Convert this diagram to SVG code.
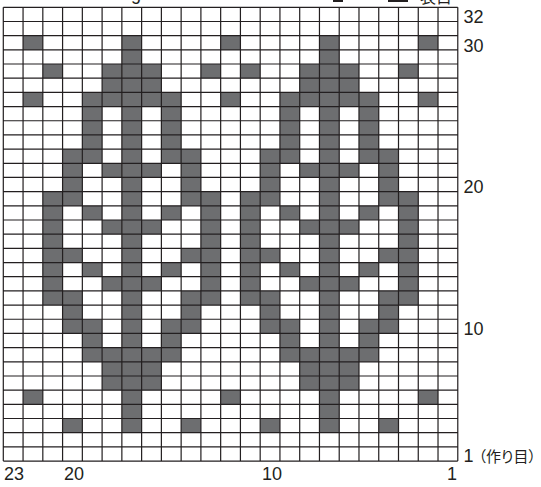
<svg xmlns="http://www.w3.org/2000/svg" xmlns:xlink="http://www.w3.org/1999/xlink" width="541" height="487" viewBox="0 0 541 487">
<defs>
<style>
.k{fill:#6d6e70}
.g{fill:none;stroke:#231f20;stroke-width:1.2}
.t{font-family:"Liberation Sans","Noto Sans CJK JP",sans-serif;font-size:18px;fill:#231f20}
.j{font-family:"Noto Sans CJK JP","Liberation Sans",sans-serif;fill:#231f20}
.p{font-family:"Noto Sans CJK JP",sans-serif;font-feature-settings:"palt";font-size:15px}
</style>
<g id="motif">
<rect class="k" x="121.86" y="35.66" width="19.76" height="397.04"/>
<rect class="k" x="102.1" y="64.02" width="59.28" height="42.54"/>
<rect class="k" x="82.34" y="92.38" width="19.76" height="70.9"/>
<rect class="k" x="161.38" y="92.38" width="19.76" height="70.9"/>
<rect class="k" x="62.58" y="149.1" width="19.76" height="56.72"/>
<rect class="k" x="181.14" y="149.1" width="19.76" height="56.72"/>
<rect class="k" x="102.1" y="163.28" width="59.28" height="14.18"/>
<rect class="k" x="42.82" y="191.64" width="19.76" height="113.44"/>
<rect class="k" x="200.9" y="191.64" width="19.76" height="113.44"/>
<rect class="k" x="82.34" y="205.82" width="19.76" height="14.18"/>
<rect class="k" x="161.38" y="205.82" width="19.76" height="14.18"/>
<rect class="k" x="102.1" y="220" width="59.28" height="14.18"/>
<rect class="k" x="62.58" y="248.36" width="19.76" height="14.18"/>
<rect class="k" x="181.14" y="248.36" width="19.76" height="14.18"/>
<rect class="k" x="82.34" y="262.54" width="19.76" height="14.18"/>
<rect class="k" x="161.38" y="262.54" width="19.76" height="14.18"/>
<rect class="k" x="102.1" y="276.72" width="59.28" height="14.18"/>
<rect class="k" x="62.58" y="290.9" width="19.76" height="42.54"/>
<rect class="k" x="181.14" y="290.9" width="19.76" height="42.54"/>
<rect class="k" x="82.34" y="319.26" width="19.76" height="42.54"/>
<rect class="k" x="161.38" y="319.26" width="19.76" height="42.54"/>
<rect class="k" x="102.1" y="347.62" width="59.28" height="42.54"/>
</g>
</defs>
<rect x="0" y="0" width="541" height="487" fill="#ffffff"/>
<g id="legend">
<text class="t" x="131" y="-0.5" font-size="17">g</text>
<rect x="333" y="-10" width="10" height="12" fill="#231f20"/>
<rect x="388" y="-10" width="20" height="12" fill="#231f20"/>
<text class="j" x="420" y="2.5" font-size="16">表目</text>
</g>
<g id="chart">
<use xlink:href="#motif" href="#motif"/>
<use xlink:href="#motif" href="#motif" x="197.6"/>
<g id="dots">
<rect class="k" x="23.06" y="35.66" width="19.76" height="14.18"/>
<rect class="k" x="220.66" y="35.66" width="19.76" height="14.18"/>
<rect class="k" x="418.26" y="35.66" width="19.76" height="14.18"/>
<rect class="k" x="42.82" y="64.02" width="19.76" height="14.18"/>
<rect class="k" x="200.9" y="64.02" width="19.76" height="14.18"/>
<rect class="k" x="240.42" y="64.02" width="19.76" height="14.18"/>
<rect class="k" x="398.5" y="64.02" width="19.76" height="14.18"/>
<rect class="k" x="23.06" y="92.38" width="19.76" height="14.18"/>
<rect class="k" x="220.66" y="92.38" width="19.76" height="14.18"/>
<rect class="k" x="418.26" y="92.38" width="19.76" height="14.18"/>
<rect class="k" x="23.06" y="390.16" width="19.76" height="14.18"/>
<rect class="k" x="220.66" y="390.16" width="19.76" height="14.18"/>
<rect class="k" x="418.26" y="390.16" width="19.76" height="14.18"/>
<rect class="k" x="62.58" y="418.52" width="19.76" height="14.18"/>
<rect class="k" x="181.14" y="418.52" width="19.76" height="14.18"/>
<rect class="k" x="260.18" y="418.52" width="19.76" height="14.18"/>
<rect class="k" x="378.74" y="418.52" width="19.76" height="14.18"/>
</g>
<path class="g" d="M3.3 7.3V461.06M23.06 7.3V461.06M42.82 7.3V461.06M62.58 7.3V461.06M82.34 7.3V461.06M102.1 7.3V461.06M121.86 7.3V461.06M141.62 7.3V461.06M161.38 7.3V461.06M181.14 7.3V461.06M200.9 7.3V461.06M220.66 7.3V461.06M240.42 7.3V461.06M260.18 7.3V461.06M279.94 7.3V461.06M299.7 7.3V461.06M319.46 7.3V461.06M339.22 7.3V461.06M358.98 7.3V461.06M378.74 7.3V461.06M398.5 7.3V461.06M418.26 7.3V461.06M438.02 7.3V461.06M457.78 7.3V461.06
M3.3 7.3H457.78M3.3 21.48H457.78M3.3 35.66H457.78M3.3 49.84H457.78M3.3 64.02H457.78M3.3 78.2H457.78M3.3 92.38H457.78M3.3 106.56H457.78M3.3 120.74H457.78M3.3 134.92H457.78M3.3 149.1H457.78M3.3 163.28H457.78M3.3 177.46H457.78M3.3 191.64H457.78M3.3 205.82H457.78M3.3 220H457.78M3.3 234.18H457.78M3.3 248.36H457.78M3.3 262.54H457.78M3.3 276.72H457.78M3.3 290.9H457.78M3.3 305.08H457.78M3.3 319.26H457.78M3.3 333.44H457.78M3.3 347.62H457.78M3.3 361.8H457.78M3.3 375.98H457.78M3.3 390.16H457.78M3.3 404.34H457.78M3.3 418.52H457.78M3.3 432.7H457.78M3.3 446.88H457.78M3.3 461.06H457.78"/>
</g>
<g id="row-labels">
<text class="t" x="463.5" y="22.9">32</text>
<text class="t" x="463.5" y="51.5">30</text>
<text class="t" x="463.5" y="193.3">20</text>
<text class="t" x="463.5" y="335">10</text>
<text class="t" x="463.5" y="462">1<tspan class="p" dx="5">（作り目）</tspan></text>
</g>
<g id="col-labels" text-anchor="middle">
<text class="t" x="14" y="480">23</text>
<text class="t" x="74" y="480">20</text>
<text class="t" x="272" y="480">10</text>
<text class="t" x="452" y="480">1</text>
</g>
</svg>
